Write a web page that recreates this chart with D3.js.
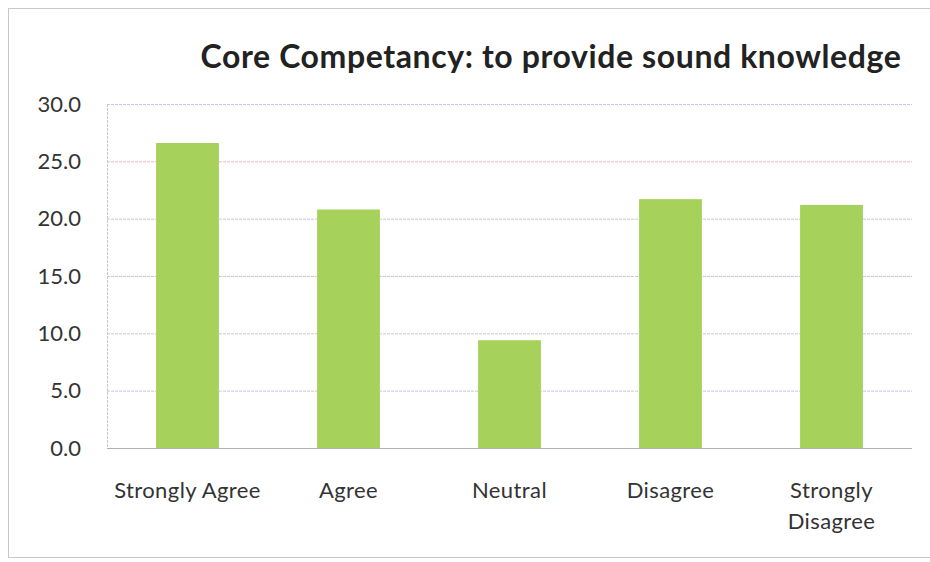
<!DOCTYPE html>
<html>
<head>
<meta charset="utf-8">
<script src="https://cdn.jsdelivr.net/npm/d3@7"></script>
<style>
  body { margin: 0; background: #fff; }
  svg { display: block; }
</style>
</head>
<body>
<svg id="chart" width="930" height="562"></svg>
<script>
// values
var categories = ['Strongly Agree', 'Agree', 'Neutral', 'Disagree', 'Strongly Disagree'];
var values = [26.6, 20.8, 9.4, 21.7, 21.2];
var yTicks = [0, 5, 10, 15, 20, 25, 30];

var svg = d3.select('#chart');
var margin = {top: 104, right: 18, bottom: 114, left: 107};
var width = 930 - margin.left - margin.right,
	height = 562 - margin.top - margin.bottom;

// outer frame
svg.append('rect')
	.attr('x', 8.5).attr('y', 8.5)
	.attr('width', 940).attr('height', 549)
	.style('fill', 'none')
	.style('stroke', '#c8c8c8')
	.style('stroke-width', 1);

svg.append('text')
	.attr('x', 551)
	.attr('y', 68)
	.attr('text-anchor', 'middle')
	.style('font-family', 'Lato, "Open Sans", sans-serif')
	.style('font-weight', 'bold')
	.style('font-size', '32px')
	.style('letter-spacing', '0.6px')
	.style('fill', '#222')
	.text('Core Competancy: to provide sound knowledge');

var g = svg.append('g')
	.attr('transform', `translate(${margin.left},${margin.top})`);

var x = d3.scaleBand()
	.domain(categories)
	.range([0, width])
	.paddingInner(0.61)
	.paddingOuter(0.305);

var y = d3.scaleLinear()
	.domain([0, 30])
	.range([height, 0]);

// gridlines
g.append('g')
	.selectAll('line')
	.data(yTicks.filter(d => d > 0))
	.join('line')
	.attr('x1', 0).attr('x2', width)
	.attr('y1', d => y(d) + 0.5).attr('y2', d => y(d) + 0.5)
	.style('stroke', d => d === 25 ? '#e6b8c4' : '#c4c8dc')
	.style('stroke-width', 1)
	.style('stroke-dasharray', '3,1');

// plot area left edge
g.append('line')
	.attr('x1', 0.5).attr('x2', 0.5)
	.attr('y1', 0).attr('y2', height)
	.style('stroke', '#c8c8d4')
	.style('stroke-dasharray', '3,1');

g.selectAll('rect.bar')
	.data(values)
	.join('rect')
	.attr('class', 'bar')
	.attr('x', (d, i) => x(categories[i]))
	.attr('y', d => y(d))
	.attr('width', x.bandwidth())
	.attr('height', d => height - y(d))
	.style('fill', '#a6d15a');

// x axis line
g.append('line')
	.attr('x1', 0).attr('x2', width)
	.attr('y1', height + 0.5).attr('y2', height + 0.5)
	.style('stroke', '#b0b0b8');

// y tick labels
g.append('g')
	.selectAll('text')
	.data(yTicks)
	.join('text')
	.attr('x', -26)
	.attr('y', d => y(d))
	.attr('dy', '0.35em')
	.attr('text-anchor', 'end')
	.style('font-family', 'Lato, "Open Sans", sans-serif')
	.style('font-size', '22px')
	.style('fill', '#333')
	.text(d3.format('.1f'));

// x labels, long one wrapped like the original
var xLabels = g.append('g')
	.selectAll('text')
	.data(categories)
	.join('text')
	.attr('x', d => x(d) + x.bandwidth() / 2)
	.attr('y', height + 50)
	.attr('text-anchor', 'middle')
	.style('font-family', 'Lato, "Open Sans", sans-serif')
	.style('font-size', '22px')
	.style('letter-spacing', '0.4px')
	.style('fill', '#333');

xLabels.each(function(d) {
	var words = d === 'Strongly Disagree' ? ['Strongly', 'Disagree'] : [d];
	var t = d3.select(this);
	words.forEach((w, i) => {
		t.append('tspan')
			.attr('x', t.attr('x'))
			.attr('dy', i === 0 ? 0 : 31)
			.text(w);
	});
});
</script>
</body>
</html>
